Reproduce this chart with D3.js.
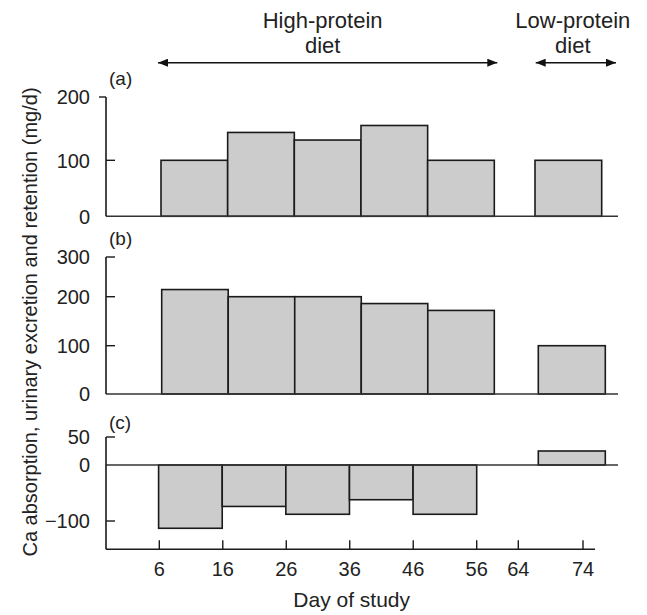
<!DOCTYPE html>
<html>
<head>
<meta charset="utf-8">
<script src="https://cdn.jsdelivr.net/npm/d3@7"></script>
<style>
  html, body { margin: 0; padding: 0; background: #fff; }
  svg { display: block; }
  text { font-family: "Liberation Sans", Arial, sans-serif; fill: #222; }
</style>
</head>
<body>
<svg id="chart" width="647" height="615"></svg>
<script>
// ---------------- data ----------------
const dayTicks = [6, 16, 26, 36, 46, 56, 64, 74];
const periodStart = [6, 16, 26, 36, 46, 64];
const periodEnd = [16, 26, 36, 46, 56, 74];
const absorption = [100, 144, 132, 155, 100, 100];      // panel (a)
const urinary = [218, 200, 200, 186, 172, 100];         // panel (b)
const retention = [-113, -74, -88, -62, -88, 25];       // panel (c)
const ticksA = [0, 100, 200];
const ticksB = [0, 100, 200, 300];
const ticksC = [-100, 0, 50];
const panelLabels = ["(a)", "(b)", "(c)"];
const dietNames = [["High-protein", "diet"], ["Low-protein", "diet"]];
const dietStart = [6, 64];
const dietEnd = [56, 74];
const xTitle = "Day of study";
const yTitle = "Ca absorption, urinary excretion and retention (mg/d)";

// ---------------- layout ----------------
const svg = d3.select("#chart");
const axisX = 106;          // left axis position
const baseRight = 618;      // right end of panel baselines
const xAxisY = 549.3;
const stroke = "#1a1a1a";
const barFill = "#cccccc";

// polylinear scales (the original figure's spacing is not uniform)
const xAxisScale = d3.scaleLinear().domain([6, 56, 64, 74]).range([159.3, 476.7, 518.3, 583]);
const xA = d3.scaleLinear().domain([6, 56, 64, 74]).range([161, 494.3, 535, 601.7]);
const xB = d3.scaleLinear().domain([6, 56, 64, 74]).range([161.7, 494.3, 538.3, 605.3]);
const xC = d3.scaleLinear().domain([6, 56, 64, 74]).range([158.6, 476.7, 538.3, 605.3]);
const xDiet = d3.scaleLinear().domain([6, 56, 64, 74]).range([158, 497.3, 535.7, 616]);

const yA = d3.scaleLinear().domain([0, 100, 200]).range([216.3, 160.3, 97]);
const yB = d3.scaleLinear().domain([0, 100, 200, 300]).range([394, 345.7, 296.7, 257]);
const yC = d3.scaleLinear().domain([-100, 50]).range([521, 437]);

const panels = [
  { x: xA, y: yA, values: absorption, ticks: ticksA, label: panelLabels[0], labelY: 85, outTop: true },
  { x: xB, y: yB, values: urinary, ticks: ticksB, label: panelLabels[1], labelY: 245, outTop: false },
  { x: xC, y: yC, values: retention, ticks: ticksC, label: panelLabels[2], labelY: 429, outTop: false }
];

panels.forEach((p, pi) => {
  const g = svg.append("g");
  const [d0, d1] = d3.extent(p.ticks);
  const top = p.y(d1);
  const bottom = pi === 2 ? xAxisY : p.y(0);

  // bars
  g.selectAll("rect.bar")
    .data(p.values.map((v, i) => ({ v, s: periodStart[i], e: periodEnd[i] })))
    .join("rect")
    .attr("class", "bar")
    .attr("x", d => p.x(d.s))
    .attr("width", d => p.x(d.e) - p.x(d.s))
    .attr("y", d => Math.min(p.y(d.v), p.y(0)))
    .attr("height", d => Math.abs(p.y(d.v) - p.y(0)))
    .attr("fill", barFill)
    .attr("stroke", stroke)
    .attr("stroke-width", 1.6);

  // baseline
  g.append("line")
    .attr("x1", axisX).attr("x2", baseRight)
    .attr("y1", p.y(0)).attr("y2", p.y(0))
    .attr("stroke", "#333").attr("stroke-width", 1.6);

  // y axis line
  g.append("line")
    .attr("x1", axisX).attr("x2", axisX)
    .attr("y1", top).attr("y2", bottom)
    .attr("stroke", stroke).attr("stroke-width", 1.6);

  // ticks
  p.ticks.forEach(t => {
    const yy = p.y(t);
    if (t !== 0) {
      const outward = p.outTop && t === d1;
      g.append("line")
        .attr("x1", outward ? axisX - 7 : axisX)
        .attr("x2", outward ? axisX : axisX + 9)
        .attr("y1", yy).attr("y2", yy)
        .attr("stroke", stroke).attr("stroke-width", 1.4);
    }
    g.append("text")
      .attr("x", 90)
      .attr("y", yy)
      .attr("dy", "0.36em")
      .attr("text-anchor", "end")
      .attr("font-size", 20)
      .text(t < 0 ? "\u2212" + Math.abs(t) : t);
  });

  // panel label
  g.append("text")
    .attr("x", 109)
    .attr("y", p.labelY)
    .attr("font-size", 19)
    .text(p.label);
});

// ---------------- x axis ----------------
const xg = svg.append("g");
xg.append("line")
  .attr("x1", axisX).attr("x2", 595)
  .attr("y1", xAxisY).attr("y2", xAxisY)
  .attr("stroke", stroke).attr("stroke-width", 1.6);
xg.selectAll("line.tick")
  .data(dayTicks)
  .join("line")
  .attr("class", "tick")
  .attr("x1", d => xAxisScale(d)).attr("x2", d => xAxisScale(d))
  .attr("y1", xAxisY).attr("y2", xAxisY - 9)
  .attr("stroke", stroke).attr("stroke-width", 1.4);
xg.selectAll("text.tl")
  .data(dayTicks)
  .join("text")
  .attr("class", "tl")
  .attr("x", d => xAxisScale(d))
  .attr("y", 576)
  .attr("text-anchor", "middle")
  .attr("font-size", 20)
  .text(d => d);

svg.append("text")
  .attr("x", 351.7)
  .attr("y", 607)
  .attr("text-anchor", "middle")
  .attr("font-size", 21)
  .text(xTitle);

svg.append("text")
  .attr("transform", "translate(36.5,322) rotate(-90)")
  .attr("text-anchor", "middle")
  .attr("font-size", 20)
  .text(yTitle);

// ---------------- diet annotations ----------------
const defs = svg.append("defs");
["start", "end"].forEach(k => {
  defs.append("marker")
    .attr("id", "arrow-" + k)
    .attr("viewBox", "0 0 10 8")
    .attr("refX", k === "end" ? 10 : 0)
    .attr("refY", 4)
    .attr("markerWidth", 10)
    .attr("markerHeight", 8)
    .attr("markerUnits", "userSpaceOnUse")
    .attr("orient", "auto")
    .append("path")
    .attr("d", k === "end" ? "M0,0 L10,4 L0,8 Z" : "M10,0 L0,4 L10,8 Z")
    .attr("fill", "#111");
});

const arrowY = 62.7;
dietNames.forEach((lines, i) => {
  const x0 = xDiet(dietStart[i]), x1 = xDiet(dietEnd[i]);
  svg.append("line")
    .attr("x1", x0).attr("x2", x1)
    .attr("y1", arrowY).attr("y2", arrowY)
    .attr("stroke", "#111").attr("stroke-width", 1.6)
    .attr("marker-start", "url(#arrow-start)")
    .attr("marker-end", "url(#arrow-end)");
  const cx = (x0 + x1) / 2 + (i === 0 ? -5 : -3);
  lines.forEach((ln, j) => {
    svg.append("text")
      .attr("x", cx)
      .attr("y", 28 + j * 25)
      .attr("text-anchor", "middle")
      .attr("font-size", 22)
      .text(ln);
  });
});
</script>
</body>
</html>
